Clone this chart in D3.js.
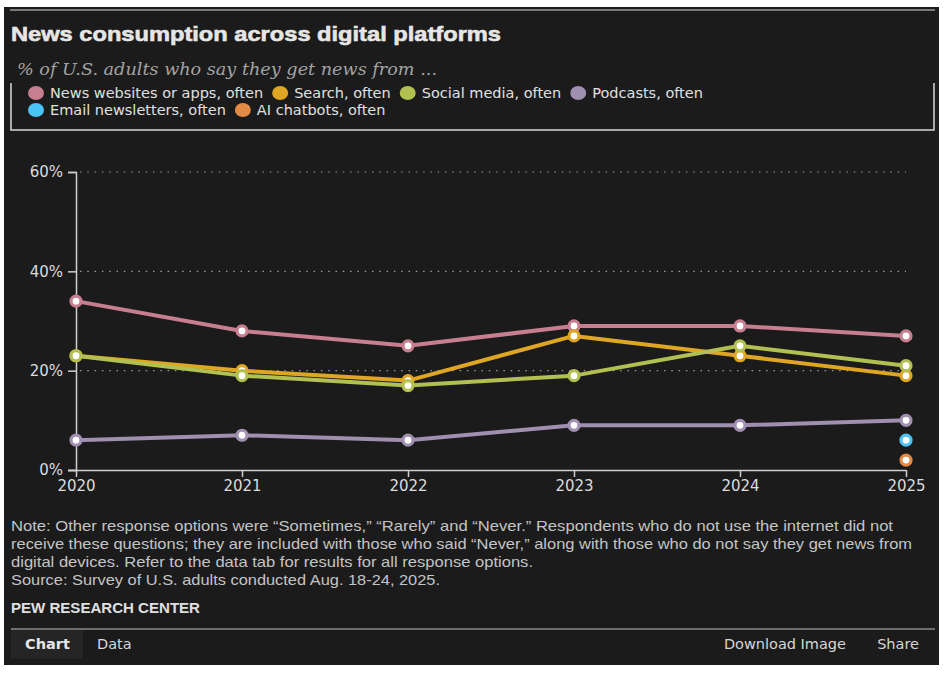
<!DOCTYPE html>
<html lang="en">
  <head>
    <meta charset="utf-8" />
    <title>News consumption across digital platforms</title>
    <script src="https://cdn.jsdelivr.net/npm/d3@7"></script>
    <style>
      body { margin: 0; background: #fff; }
    </style>
  </head>
  <body>
    <script>
      // data
      var years = [2020, 2021, 2022, 2023, 2024, 2025];
      var newsSites = [34, 28, 25, 29, 29, 27];
      var search = [23, 20, 18, 27, 23, 19];
      var socialMedia = [23, 19, 17, 19, 25, 21];
      var podcasts = [6, 7, 6, 9, 9, 10];
      var emailNews = [null, null, null, null, null, 6];
      var aiChatbots = [null, null, null, null, null, 2];
      var yTicks = [0, 20, 40, 60];

      var series = [
        { name: "News websites or apps, often", values: newsSites, color: "#c77e91" },
        { name: "Search, often", values: search, color: "#dea623" },
        { name: "Social media, often", values: socialMedia, color: "#b2c052" },
        { name: "Podcasts, often", values: podcasts, color: "#a08fb1" },
        { name: "Email newsletters, often", values: emailNews, color: "#4cc3f6" },
        { name: "AI chatbots, often", values: aiChatbots, color: "#e38a47" }
      ];

      var W = 945, H = 675;
      var svg = d3.select("body").append("svg")
        .attr("width", W).attr("height", H)
        .style("font-family", "'DejaVu Sans', sans-serif");

      // dark panel
      svg.append("rect").attr("x", 4).attr("y", 7).attr("width", 935).attr("height", 658)
        .attr("fill", "#1b1b1b");
      svg.append("line").attr("x1", 10).attr("x2", 935).attr("y1", 10).attr("y2", 10)
        .attr("stroke", "#7a7a7a").attr("stroke-width", 2);

      svg.append("text").attr("x", 11).attr("y", 41)
        .style("font-family", "'Liberation Sans', Arial, sans-serif")
        .attr("font-weight", "bold").attr("font-size", 21)
        .attr("stroke", "#e6e6e6").attr("stroke-width", 0.6)
        .attr("textLength", 490).attr("lengthAdjust", "spacingAndGlyphs")
        .attr("fill", "#e6e6e6")
        .text("News consumption across digital platforms");

      svg.append("text").attr("x", 17).attr("y", 75)
        .style("font-family", "'DejaVu Serif', 'Liberation Serif', serif")
        .attr("font-style", "italic").attr("font-size", 16.5)
        .attr("textLength", 420).attr("lengthAdjust", "spacingAndGlyphs")
        .attr("fill", "#a3a3a3")
        .text("% of U.S. adults who say they get news from ...");

      // legend box (sides + bottom)
      svg.append("path").attr("d", "M11,83V130H934V83")
        .attr("fill", "none").attr("stroke", "#d8d8d8").attr("stroke-width", 1.5);

      var legendRows = [series.slice(0, 4), series.slice(4)];
      legendRows.forEach(function (row, ri) {
        var x = 28;
        var y = 93 + ri * 17;
        row.forEach(function (s) {
          var g = svg.append("g").attr("transform", "translate(" + x + "," + y + ")");
          g.append("ellipse").attr("cx", 8).attr("cy", 0).attr("rx", 8).attr("ry", 7)
            .attr("fill", s.color);
          var t = g.append("text").attr("x", 22).attr("y", 5)
            .attr("font-size", 14.5).attr("fill", "#e0e0e0").text(s.name);
          x += 22 + t.node().getComputedTextLength() + 9;
        });
      });

      // chart area
      var x = d3.scalePoint().domain(years).range([76, 906]);
      var y = d3.scaleLinear().domain([0, 60]).range([470, 172]);

      svg.append("g").selectAll("line")
        .data(yTicks.filter(function (d) { return d > 0; }))
        .join("line")
        .attr("x1", 80).attr("x2", 906)
        .attr("y1", function (d) { return y(d); }).attr("y2", function (d) { return y(d); })
        .attr("stroke", "#9a9a9a").attr("stroke-width", 1.2)
        .attr("stroke-dasharray", "1.5,5.8");

      var yAxis = svg.append("g").attr("transform", "translate(76,0)")
        .call(d3.axisLeft(y).tickValues(yTicks).tickSize(8).tickPadding(5)
          .tickFormat(function (d) { return d + "%"; }));
      var xAxis = svg.append("g").attr("transform", "translate(0,470)")
        .call(d3.axisBottom(x).tickSize(7).tickPadding(3).tickSizeOuter(0));

      [yAxis, xAxis].forEach(function (a) {
        a.attr("font-family", null);
        a.select(".domain").attr("stroke", "#cfcfcf").attr("stroke-width", 1.5);
        a.selectAll(".tick line").attr("stroke", "#cfcfcf").attr("stroke-width", 1.5);
        a.selectAll(".tick text").attr("fill", "#dcdcdc").attr("font-size", 15);
      });
      yAxis.attr("font-size", 15);
      xAxis.attr("font-size", 15);
      xAxis.select(".domain").attr("d", "M68,0.5H906");

      var line = d3.line()
        .defined(function (d) { return d != null; })
        .x(function (d, i) { return x(years[i]); })
        .y(function (d) { return y(d); });

      series.forEach(function (s) {
        svg.append("path").datum(s.values)
          .attr("d", line)
          .attr("fill", "none").attr("stroke", s.color).attr("stroke-width", 4)
          .attr("stroke-linejoin", "round");
        svg.append("g").selectAll("circle")
          .data(s.values.map(function (v, i) { return { v: v, yr: years[i] }; })
            .filter(function (d) { return d.v != null; }))
          .join("circle")
          .attr("cx", function (d) { return x(d.yr); })
          .attr("cy", function (d) { return y(d.v); })
          .attr("r", 5)
          .attr("fill", "#fff").attr("stroke", s.color).attr("stroke-width", 3.2);
      });

      // notes
      var notes = [
        ["Note: Other response options were \u201cSometimes,\u201d \u201cRarely\u201d and \u201cNever.\u201d Respondents who do not use the internet did not", 882],
        ["receive these questions; they are included with those who said \u201cNever,\u201d along with those who do not say they get news from", 901],
        ["digital devices. Refer to the data tab for results for all response options.", 522],
        ["Source: Survey of U.S. adults conducted Aug. 18-24, 2025.", 429]
      ];
      notes.forEach(function (n, i) {
        svg.append("text").attr("x", 11).attr("y", 531 + i * 18)
          .style("font-family", "'Liberation Sans Narrow', 'Liberation Sans', sans-serif")
          .attr("font-size", 14.5).attr("fill", "#c4c4c4")
          .attr("textLength", n[1]).attr("lengthAdjust", "spacingAndGlyphs")
          .text(n[0]);
      });
      svg.append("text").attr("x", 11).attr("y", 613)
        .style("font-family", "'Liberation Sans Narrow', 'Liberation Sans', sans-serif")
        .attr("font-weight", "bold").attr("font-size", 14.5).attr("fill", "#e0e0e0")
        .attr("textLength", 189).attr("lengthAdjust", "spacingAndGlyphs")
        .text("PEW RESEARCH CENTER");

      // bottom tab bar
      svg.append("line").attr("x1", 11).attr("x2", 935).attr("y1", 629).attr("y2", 629)
        .attr("stroke", "#8a8a8a").attr("stroke-width", 1.5);
      svg.append("rect").attr("x", 11).attr("y", 630).attr("width", 72).attr("height", 29)
        .attr("fill", "#252525");
      svg.append("text").attr("x", 25).attr("y", 649).attr("font-size", 14.5)
        .attr("font-weight", "bold").attr("fill", "#e6e6e6").text("Chart");
      svg.append("text").attr("x", 97).attr("y", 649).attr("font-size", 14.5)
        .attr("fill", "#d6d6d6").text("Data");
      svg.append("text").attr("x", 846).attr("y", 649).attr("font-size", 14.5)
        .attr("text-anchor", "end").attr("fill", "#d6d6d6").text("Download Image");
      svg.append("text").attr("x", 919).attr("y", 649).attr("font-size", 14.5)
        .attr("text-anchor", "end").attr("fill", "#d6d6d6").text("Share");
    </script>
  </body>
</html>
